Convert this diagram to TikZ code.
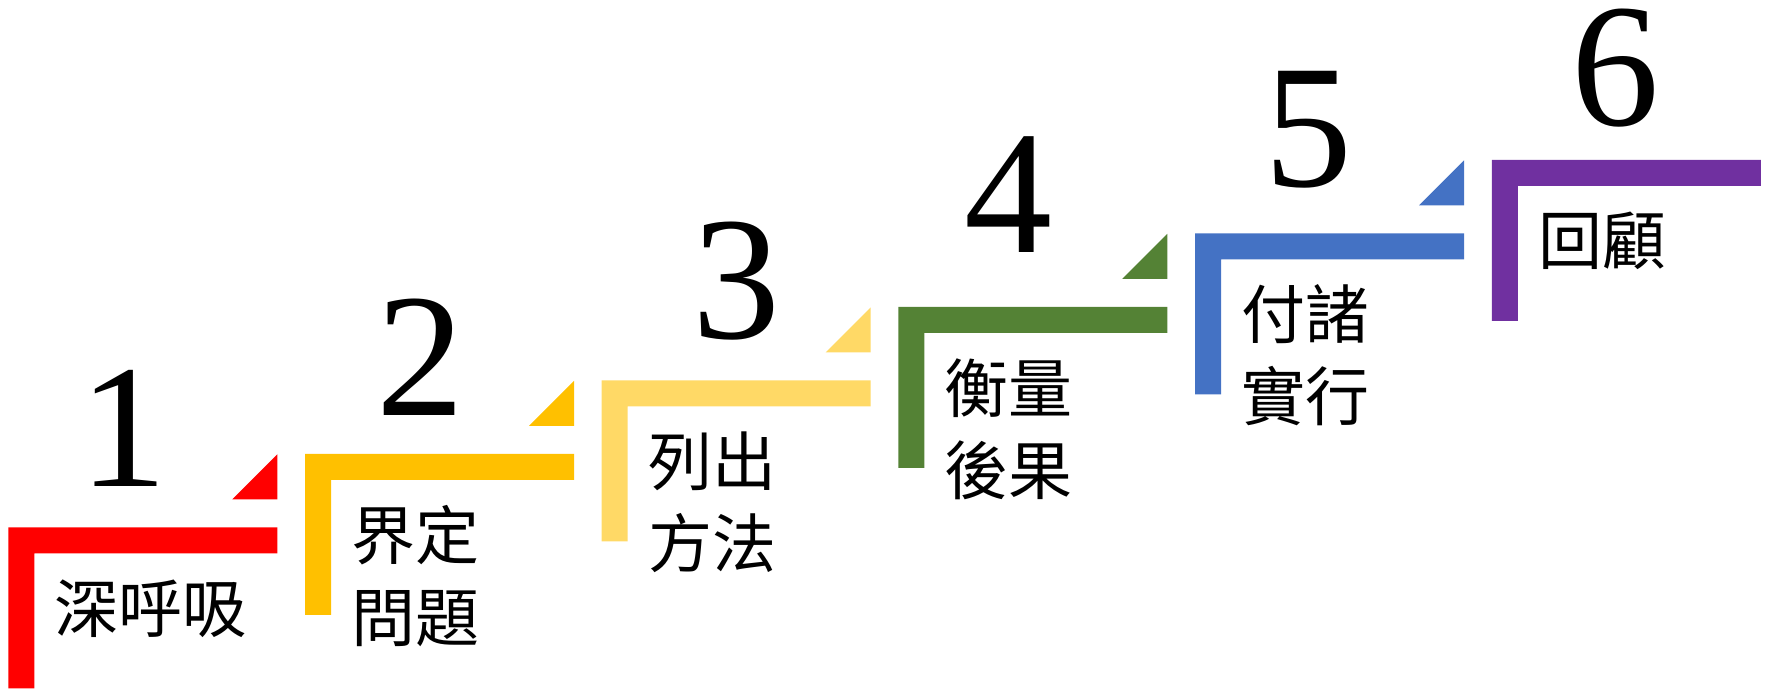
\documentclass[tikz,border=0pt]{standalone}
\usepackage{fontspec}
\setmainfont{Liberation Serif}
\newfontfamily\cjk{Noto Sans CJK TC}
\definecolor{stepred}{HTML}{FF0000}
\definecolor{steporange}{HTML}{FFC000}
\definecolor{stepyellow}{HTML}{FFD966}
\definecolor{stepgreen}{HTML}{548235}
\definecolor{stepblue}{HTML}{4472C4}
\definecolor{steppurple}{HTML}{7030A0}
\tikzset{
  num/.style={anchor=base,inner sep=0pt,text height=60pt,text depth=0pt,font=\fontsize{88}{88}\selectfont},
  lab/.style={anchor=north west,inner sep=0pt,align=left,font=\cjk\fontsize{32}{41}\selectfont}
}
\begin{document}
\begin{tikzpicture}[x=0.5pt,y=-0.5pt]
\useasboundingbox (0,0) rectangle (1770,689);
\foreach \i/\c in {1/stepred,2/steporange,3/stepyellow,4/stepgreen,5/stepblue,6/steppurple}{
	\pgfmathsetmacro{\px}{8.3+296.7*(\i-1)}
	\pgfmathsetmacro{\py}{527.3-73.5*(\i-1)}
	\fill[\c] (\px,\py) -- ++(269,0) -- ++(0,26) -- ++(-243,0) -- ++(0,135) -- ++(-26,0) -- cycle;
	\ifnum\i<6
		\fill[\c] (\px+269,\py-73) -- (\px+269,\py-28) -- (\px+224,\py-28) -- cycle;
	\fi
}
\node[num] (num1) at (123.7,486) {1};
\node[num] (num2) at (420,415) {2};
\node[num] (num3) at (736,339) {3};
\node[num] (num4) at (1008,253) {4};
\node[num] (num5) at (1308,187) {5};
\node[num] (num6) at (1615,126) {6};
\node[lab] (lab1) at (54,579) {深呼吸};
\node[lab] (lab2) at (351,505) {界定\\問題};
\node[lab] (lab3) at (648,431) {列出\\方法};
\node[lab] (lab4) at (944,358) {衡量\\後果};
\node[lab] (lab5) at (1241,284) {付諸\\實行};
\node[lab] (lab6) at (1538,212) {回顧};
\end{tikzpicture}
\end{document}
